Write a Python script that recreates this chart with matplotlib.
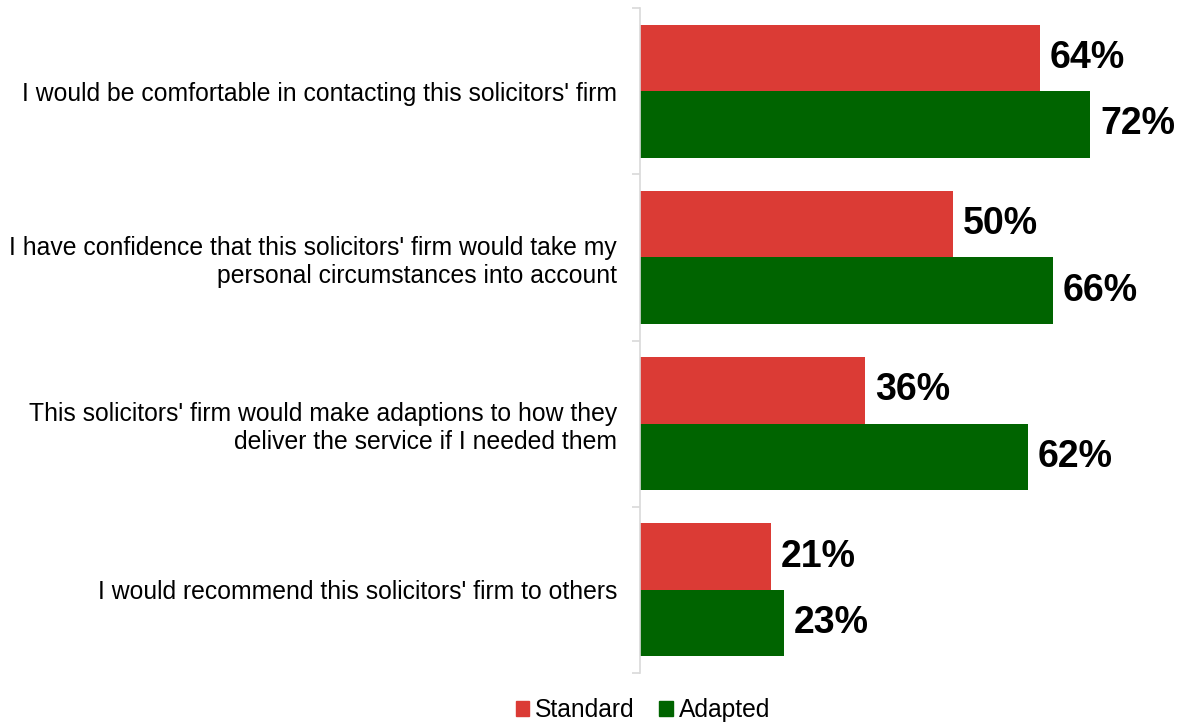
import numpy as np
import matplotlib.pyplot as plt
from matplotlib.patches import Patch

plt.rcParams['font.family'] = ['Liberation Sans', 'DejaVu Sans']

# --- Survey statements and agreement shares
statements = [
    "I would be comfortable in contacting this solicitors' firm",
    "I have confidence that this solicitors' firm would take my\npersonal circumstances into account",
    "This solicitors' firm would make adaptions to how they\ndeliver the service if I needed them",
    "I would recommend this solicitors' firm to others",
]
standard = [64, 50, 36, 21]
adapted = [72, 66, 62, 23]
series_names = ["Standard", "Adapted"]

red = "#DB3B35"
green = "#006400"
grey = "#D9D9D9"

fig = plt.figure(figsize=(11.79, 7.22), dpi=100)
ax = fig.add_axes([640/1179, 49/722, 539/1179, 665/722])

y = np.arange(len(statements))
h = 0.4

ax.barh(y - h/2, standard, height=h, color=red)
ax.barh(y + h/2, adapted, height=h, color=green)

# --- Value labels at bar ends
for yi, v in zip(y, standard):
    ax.text(v + 1.6, yi - h/2, f"{v}%", va="center", ha="left",
            fontsize=27, fontweight="bold", color="black")
for yi, v in zip(y, adapted):
    ax.text(v + 1.6, yi + h/2, f"{v}%", va="center", ha="left",
            fontsize=27, fontweight="bold", color="black")

# --- Axes setup
ax.set_xlim(0, 539/6.25)
ax.set_ylim(len(statements) - 0.5, -0.5)
ax.set_xticks([])
ax.set_yticks(y)
ax.set_yticklabels(statements, fontsize=17.8, ha="right", linespacing=1.2)
ax.tick_params(axis="y", which="major", length=0, pad=16.5)
ax.set_yticks(np.arange(len(statements) + 1) - 0.5, minor=True)
ax.tick_params(axis="y", which="minor", length=6, width=1.2, color=grey, direction="out")

for side in ["top", "right", "bottom"]:
    ax.spines[side].set_visible(False)
ax.spines["left"].set_color(grey)
ax.spines["left"].set_linewidth(1.2)

# --- Legend
handles = [Patch(color=red), Patch(color=green)]
fig.legend(handles, series_names, loc="center", bbox_to_anchor=(643/1179, 1 - 710/722),
           ncol=2, frameon=False, fontsize=17.7, handlelength=0.55, handleheight=0.55,
           handletextpad=0.25, columnspacing=1.0, borderpad=0)

fig.savefig("out.png", dpi=100)
